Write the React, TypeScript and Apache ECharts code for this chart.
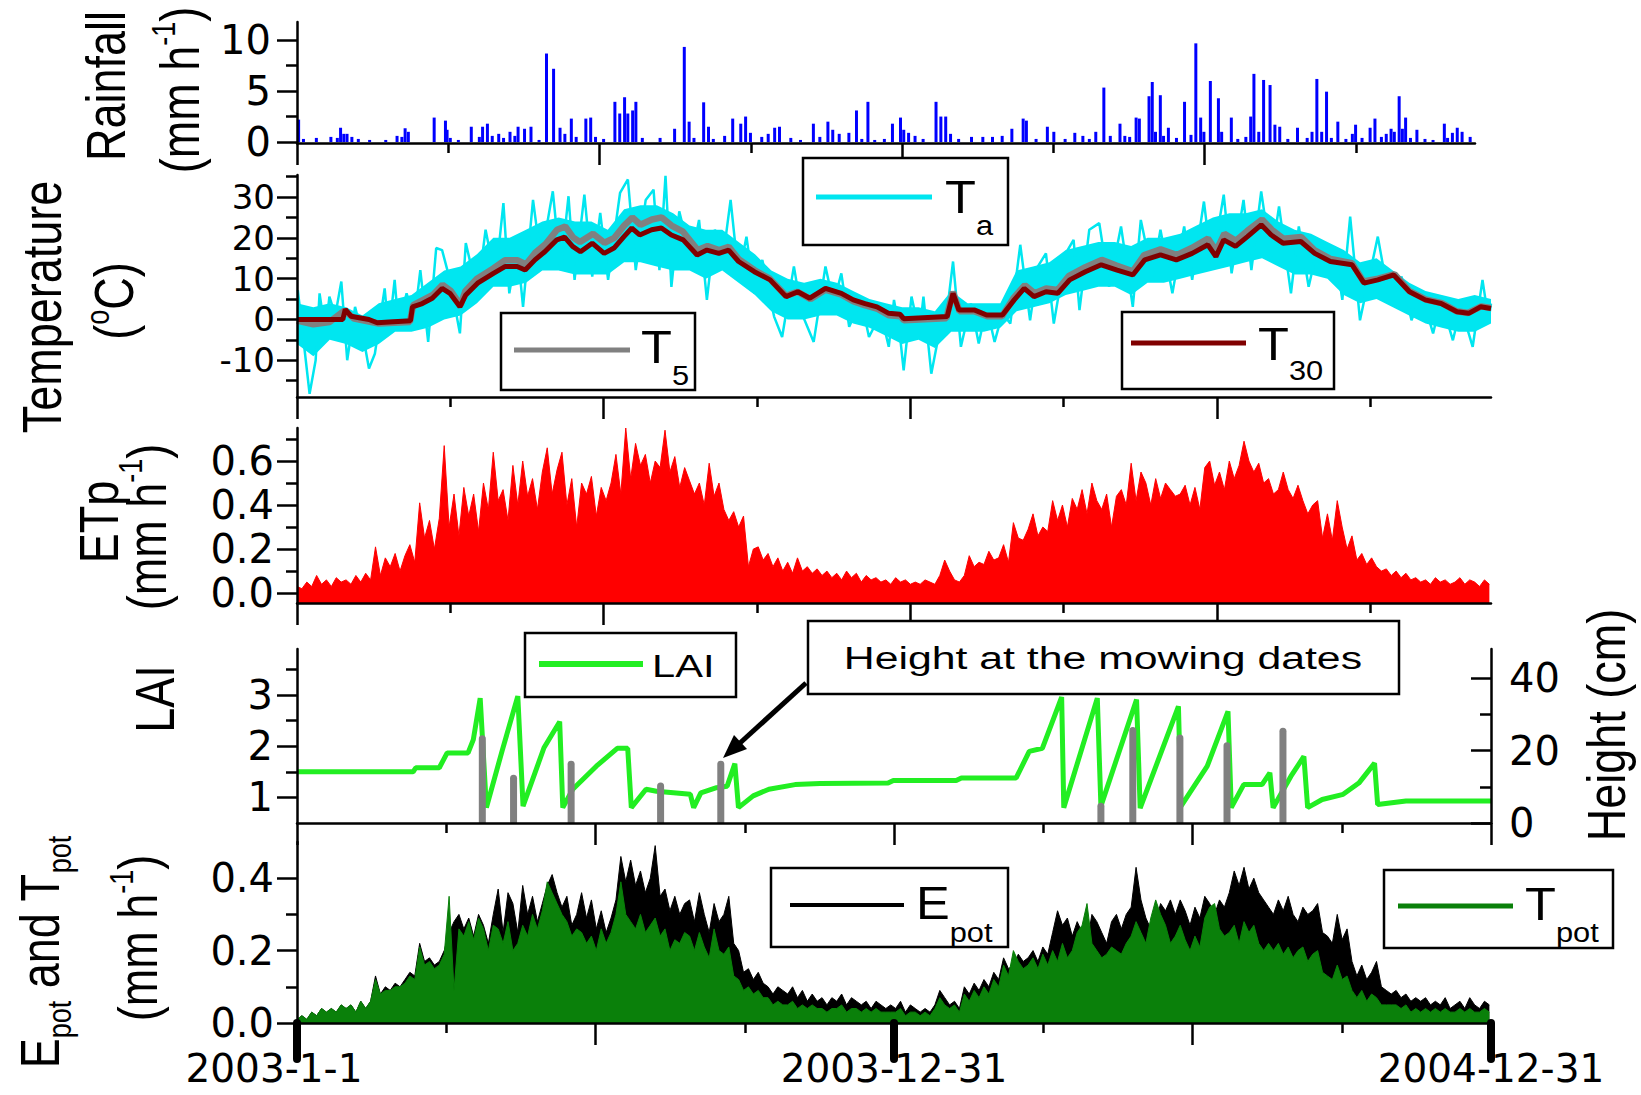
import React, { useEffect, useRef } from 'react';
import * as echarts from 'echarts';

// ---------- fonts ----------
const NAME_FONT = 'Liberation Sans';
const TICK_FONT = 'DejaVu Sans';
const TICK_SIZE = 40;
const TEMP_TICK_SIZE = 34;
const DATE_SIZE = 39;

// ---------- x axis (days since 2003-01-01) ----------
const X_MAX = 730;
const STEP_DAYS = 3; // sampling step of the regularly sampled series below
const X_TOP_MAJOR = [0, 187.5, 375, 562.5];
const X_TOP_MINOR = [93.75, 281.25, 468.75, 656.25];
const X_LOW_MAJOR = [0, 182.5, 365, 547.5, 730];
const X_BOT_MAJOR = [182.5, 547.5];
const X_LOW_MINOR = [91.25, 273.75, 456.25, 638.75];
const DATE_TICKS = [0, 365, 730];
const DATE_LABELS = ['2003-1-1', '2003-12-31', '2004-12-31'];

// ---------- y ticks ----------
const RAIN_TICKS = [0, 5, 10];
const RAIN_MINOR = [2.5, 7.5];
const TEMP_TICKS = [-10, 0, 10, 20, 30];
const TEMP_MINOR = [-15, -5, 5, 15, 25, 35];
const ETP_TICKS = [0, 0.2, 0.4, 0.6];
const ETP_MINOR = [0.1, 0.3, 0.5, 0.7];
const LAI_TICKS = [1, 2, 3];
const LAI_MINOR = [1.5, 2.5, 3.5];
const HEIGHT_TICKS = [0, 20, 40];
const HEIGHT_MINOR = [10, 30];
const POT_TICKS = [0, 0.2, 0.4];
const POT_MINOR = [0.1, 0.3];

// ---------- rainfall (day, mm/h) ----------
const RAIN_DAY = [1,4,12,21,25,27,29,31,34,38,45,55,62,65,67,69,85,92,93,95,100,108,113,115,118,121,125,128,132,135,137,141,145,150,154.6,159,163,166,170,173,179,182,185,190,197,200,203,205,208,210,214,225,234,240,243,246,252,255,258,265,270,275,278,281,288,292,296,299,306,312,320,324,329,332,336,342,346.7,350,353.8,358,364,369,374,376,379,383,388,396,399,402,405,410,418,425,431,437,443,450,452,458,465,469,476,482,487,491,495,500,504,510,513,516,520,522,528,530,532,535,537,540,545,550,554,557,560,562,566,571,573,579,583,588,591,593,596,599,603,606,609,614,620,626,629,632,635,638,641,645,650,654,656,660,665,668,672,675,678,680,683,685,687,690,694,699,704,711,713,716,719,722,727];
const RAIN_MM = [2.2,0.3,0.4,0.5,0.4,1.4,0.8,0.8,0.5,0.3,0.2,0.2,0.6,0.5,1.35,1.0,2.4,2.1,1.2,0.4,0.2,1.5,0.5,1.5,1.8,0.6,0.8,0.4,1.0,0.6,1.5,1.3,1.5,0.2,8.7,7.2,1.4,0.8,2.3,0.5,2.3,2.4,0.5,0.3,3.95,2.8,4.4,2.8,3.1,3.95,0.4,0.4,1.3,9.35,2.0,0.4,3.9,1.5,0.3,0.6,2.3,1.8,2.5,0.9,0.5,0.8,1.4,1.5,0.4,0.2,1.8,0.5,2.0,1.2,0.8,0.9,3.1,0.3,3.95,0.2,0.3,1.8,2.4,1.2,0.9,0.6,0.3,3.95,2.5,2.5,0.8,0.3,0.5,0.5,0.5,0.6,1.3,2.3,2.1,0.3,1.5,1.0,0.3,0.9,0.6,0.3,1.0,5.35,0.6,1.8,0.6,0.5,2.4,2.3,4.5,5.9,1.0,4.6,0.6,1.4,0.4,3.95,0.7,9.7,2.4,1.0,6.0,4.3,1.0,2.4,0.3,0.5,2.5,6.7,1.0,6.1,5.6,1.7,1.5,0.3,1.4,0.4,1.0,6.2,1.0,4.95,0.4,2.0,0.3,0.8,1.7,0.4,1.4,2.3,0.5,0.8,1.3,1.0,4.5,1.3,2.4,0.4,1.2,0.3,0.2,1.8,0.4,0.9,1.4,1.0,0.5];

// ---------- air temperature Ta: extremes (day, °C) ----------
const TA = [[0.5,7.2],[7.7,-18.2],[11.4,-10],[13.8,6.4],[17.4,-3.4],[19.8,5.6],[23.4,1],[27.1,9.3],[30.7,-10],[35.5,3.1],[41.6,-6.7],[44,-12],[47.6,-8.4],[53.6,7.6],[56.1,-3.4],[59.7,9.7],[62.1,-1.8],[67,6.4],[71.8,0],[75.4,12.1],[80.2,-5.5],[85.1,17.5],[88.7,17],[93.5,9.7],[99.6,-3.4],[103.2,18.7],[110.4,6.4],[115.3,22],[121.3,9.7],[126.2,28.5],[129.8,6.4],[134.6,17.9],[138.2,3.1],[144.3,29.3],[149.1,14.6],[156.4,31.4],[161.2,12.1],[166,30.2],[169.7,9.7],[175.7,30.6],[180.5,10.5],[185.4,26.1],[190.2,9.7],[197.5,31],[202.3,34.3],[207.1,12.1],[213.2,29.3],[218,31.8],[221.6,12.1],[225.3,35.2],[228.9,8],[233.7,26.5],[241,14.6],[245.8,24.4],[250.6,4.8],[255.5,22],[260.3,14.6],[265.1,29.3],[270,10.5],[274.8,20.3],[279.6,6.4],[284.5,14.6],[291.7,0.7],[296.6,-4.3],[303.8,13],[308.6,1.5],[315.9,-5.5],[323.1,13],[328,3.9],[332.8,11.3],[337.6,-1.8],[344.9,4.8],[349.7,-4.3],[357,1.5],[361.8,-6.7],[365,4.8],[368.5,-3.4],[370.9,-12.5],[375.7,5.6],[380.6,-3.4],[383,5.6],[387.8,-13.3],[392.6,-3.4],[396.3,-1.8],[401.1,14.2],[405.9,-6.7],[412,3.9],[416.8,-5.9],[421.6,3.1],[426.5,-5.5],[431.3,1.5],[436.1,-1],[442.2,18.3],[448.2,-0.2],[453,13],[457.9,16.2],[462.7,-1],[470,16.2],[474.8,19.5],[478.4,2.3],[484.4,22],[490.5,23.6],[496.5,8],[503.8,22.8],[511,3.1],[515.9,24.4],[523.1,10.5],[527.9,22],[535.2,6.4],[542.4,22.8],[547.3,9.7],[554.5,28.9],[559.3,13],[566.6,30.6],[571.4,11.3],[578.7,29.3],[583.5,12.1],[589.5,31.4],[595.6,14.6],[600.4,27.7],[607.7,6.4],[612.5,22.8],[618.5,8],[624.6,18.7],[629.4,12.1],[634.2,17.9],[639.1,4.8],[643.9,25.2],[649.9,-0.2],[656,11.3],[660.8,20.3],[668.1,3.9],[675.3,10.5],[681.4,-0.2],[687.4,6.4],[694.6,-3.4],[699.5,4.8],[706.7,-5.1],[711.6,3.1],[718.8,-6.7],[724.8,9.7],[728.5,-0.2],[730,3.9]];

// ---------- air temperature Ta: dense daily band (every 10 days, °C) ----------
const TA_BAND_DAY = [0,10,20,30,40,50,60,70,80,90,100,110,120,130,140,150,160,170,180,190,200,210,220,230,240,250,260,270,280,290,300,310,320,330,340,350,360,370,380,390,400,410,420,430,440,450,460,470,480,490,500,510,520,530,540,550,560,570,580,590,600,610,620,630,640,650,660,670,680,690,700,710,720,730];
const TA_LO = [-6,-9,-5,-6,-8,-6,-3,-3,-2,0,1,4,8,8,9,12,12,11,11,11,14,14,13,12,12,10,12,9,6,2,0,0,1,1,-1,-2,-4,-6,-5,-7,-3,-3,-3,-2,2,3,4,6,7,8,8,6,9,9,10,11,12,13,14,15,13,11,11,10,6,4,5,3,1,-1,-2,-3,-3,-1];
const TA_HI = [4,3,4,3,1,4,5,6,9,12,13,16,20,20,22,24,25,24,24,22,27,28,28,26,23,22,22,19,16,12,10,9,10,9,7,5,4,3,3,2,7,4,4,4,12,13,14,17,18,19,19,18,20,20,21,23,25,26,26,27,24,22,21,19,17,14,15,12,9,7,6,5,6,5];

// ---------- soil temperature 5 cm (day, °C) ----------
const T5 = [[0,-0.3],[10,-1.2],[20,-0.6],[29,2.2],[35,0.2],[50,-1.0],[69,-0.6],[71,3.5],[83,6],[89,8.5],[94,7],[100,3.5],[103,7],[110,10],[120,12.5],[127,14.5],[135,14.5],[140,13.5],[146,16.5],[152,18.5],[159,22],[164,22.8],[169,20],[173,19],[181,21],[188,18.8],[194,20],[200,23],[205,25],[210,23.2],[217,24.5],[223,25],[229,23],[236,21.5],[245,17],[251,18],[258,17],[264,17.8],[270,14.8],[280,12],[289,10],[299,5.8],[306,6.8],[314,5],[323,7.3],[333,6.1],[340,4.5],[347,3.5],[355,2.6],[362,1],[369,0.8],[371,-0.2],[397,0.3],[401,6.8],[405,2],[414,2],[422,0.8],[431,0.8],[438,5.2],[445,8.4],[451,6.4],[458,7.6],[465,7.2],[472,10.7],[482,12.8],[492,14.6],[501,13.2],[511,11.8],[518,15.8],[528,17.2],[538,15.8],[547,17.5],[557,19.8],[562,16.8],[567,21],[574,19.3],[581,21.7],[590,24.5],[596,22],[603,19.8],[614,20.2],[622,17],[632,14.8],[645,13.8],[652,9.3],[661,10],[671,11.1],[680,7],[690,4.9],[700,4],[709,2],[716,1.6],[724,3.2],[730,2.8]];

// ---------- soil temperature 30 cm (day, °C) ----------
const T30 = [[0,0],[28,0],[29.5,2.5],[33,0.8],[44,0],[49,-0.8],[69.4,-0.3],[70.6,3.1],[76.6,3.9],[82.7,5.2],[88.7,7.6],[93.5,6.4],[99.6,3.1],[103.2,6.0],[110.4,8.9],[120.1,11.3],[127.4,13.0],[134.6,13.0],[139.5,12.1],[145.5,14.6],[151.5,16.6],[158.8,19.5],[163.6,20.2],[168.5,17.9],[173.3,16.6],[180.5,18.7],[187.8,16.2],[193.8,17.5],[199.9,20.3],[204.7,22.4],[209.5,20.7],[216.8,22],[222.8,22.4],[228.9,20.7],[236.1,19.5],[244.6,15.8],[250.6,17],[257.9,16.2],[263.9,17],[270,14.2],[279.6,11.7],[289.3,9.7],[299,5.6],[306.2,6.8],[313.5,5.2],[323.1,7.6],[332.8,6.4],[340.1,4.8],[347.3,3.9],[354.6,3.1],[361.8,1.5],[368.6,1.3],[370.9,0.2],[397.5,0.7],[401.1,6.4],[404.7,2.3],[414.4,2.3],[421.6,1.1],[431.3,1.1],[438.5,4.8],[444.6,7.6],[450.6,5.6],[457.9,6.8],[465.1,6.4],[472.4,9.7],[482,11.7],[491.7,13.4],[501.4,12.1],[511,10.9],[518.3,14.6],[527.9,15.8],[537.6,14.6],[547.3,16.2],[556.9,18.3],[561.8,15.4],[566.6,19.5],[573.8,17.9],[581.1,20.3],[589.5,23.2],[595.6,20.7],[602.8,18.7],[613.7,19.1],[622.2,16.2],[631.8,14.2],[645.1,13.4],[652.4,8.9],[660.8,9.7],[670.5,10.9],[680.2,6.8],[689.8,4.8],[699.5,3.9],[709.2,1.9],[716.4,1.5],[723.6,3.1],[730,2.7]];

// ---------- ETp (mm/h), one value every STEP_DAYS days ----------
const ETP = [
  0.03,0.02,0.05,0.03,0.08,0.04,0.06,0.03,0.07,0.05,
  0.06,0.04,0.08,0.05,0.09,0.06,0.21,0.08,0.16,0.12,
  0.18,0.10,0.17,0.22,0.14,0.41,0.25,0.33,0.20,0.34,
  0.67,0.30,0.45,0.26,0.48,0.35,0.45,0.28,0.50,0.38,
  0.64,0.42,0.47,0.33,0.58,0.40,0.60,0.44,0.52,0.38,
  0.55,0.66,0.45,0.56,0.64,0.40,0.52,0.30,0.50,0.45,
  0.53,0.35,0.48,0.42,0.50,0.63,0.45,0.75,0.52,0.68,
  0.58,0.63,0.50,0.60,0.57,0.74,0.55,0.62,0.48,0.57,
  0.51,0.45,0.50,0.40,0.59,0.44,0.50,0.38,0.33,0.37,
  0.30,0.35,0.12,0.20,0.21,0.15,0.18,0.12,0.16,0.10,
  0.14,0.09,0.16,0.10,0.12,0.09,0.11,0.08,0.10,0.07,
  0.09,0.06,0.10,0.07,0.09,0.05,0.08,0.06,0.07,0.05,
  0.06,0.04,0.07,0.05,0.06,0.04,0.05,0.04,0.06,0.05,
  0.04,0.08,0.15,0.10,0.06,0.05,0.08,0.17,0.12,0.14,
  0.13,0.19,0.15,0.16,0.22,0.14,0.32,0.25,0.24,0.29,
  0.36,0.26,0.30,0.28,0.42,0.33,0.40,0.30,0.43,0.38,
  0.47,0.36,0.50,0.42,0.38,0.45,0.30,0.44,0.47,0.40,
  0.59,0.42,0.55,0.50,0.40,0.52,0.43,0.50,0.47,0.44,
  0.45,0.49,0.40,0.48,0.38,0.57,0.60,0.49,0.55,0.47,
  0.60,0.52,0.58,0.69,0.60,0.55,0.59,0.50,0.52,0.45,
  0.47,0.55,0.47,0.43,0.49,0.42,0.36,0.40,0.42,0.25,
  0.36,0.24,0.42,0.30,0.20,0.26,0.15,0.18,0.13,0.16,
  0.12,0.10,0.11,0.08,0.10,0.07,0.09,0.06,0.07,0.05,
  0.06,0.04,0.07,0.05,0.06,0.04,0.05,0.07,0.04,0.06,0.05,0.03,0.06,0.04
];

// ---------- LAI (day, m2/m2) ----------
const LAI = [[0,1.5],[71,1.5],[72.6,1.58],[87,1.58],[91.8,1.87],[104.6,1.87],[107.8,2.13],[112,2.94],[115.8,0.8],[125.4,1.91],[135,2.98],[138.2,0.83],[151,1.97],[160.6,2.48],[162.5,0.8],[168.6,1.16],[183,1.61],[195.8,1.96],[202.2,1.96],[204.4,0.8],[213.4,1.16],[219.8,1.12],[240.5,1.06],[242.5,0.8],[246.9,1.09],[256.5,1.19],[263,1.22],[267.7,1.66],[269.9,0.8],[278.9,1.03],[288.5,1.16],[304.5,1.25],[319.8,1.27],[361.4,1.28],[364.6,1.33],[403,1.33],[406.2,1.38],[439.7,1.38],[447.7,1.9],[455.7,1.96],[467.5,2.96],[468.8,0.8],[489.3,2.94],[491.5,0.83],[513.3,2.91],[515.5,0.79],[538.9,2.78],[540.5,0.83],[556.5,1.61],[569.2,2.68],[571.2,0.8],[578.8,1.25],[590,1.25],[594.8,1.48],[596.8,0.8],[607.6,1.41],[615.6,1.8],[617.9,0.8],[626.8,0.96],[639.6,1.06],[649.2,1.28],[658.8,1.67],[660.7,0.86],[678,0.93],[730,0.93]];

// ---------- canopy height at the mowing dates (day, cm) ----------
const MOW = [[113.3,24.2],[132.4,13.3],[167.6,17.2],[222.3,11.2],[259.1,17.2],[491.5,5.6],[511,26.5],[539.8,24.4],[568.6,22.3],[602.8,26.3]];

// ---------- Epot and Tpot (mm/h), one value every STEP_DAYS days ----------
const EPOT = [
  0.01,0.02,0.01,0.03,0.02,0.04,0.03,0.04,0.03,0.05,
  0.04,0.05,0.03,0.06,0.04,0.06,0.13,0.08,0.10,0.09,
  0.11,0.10,0.12,0.14,0.13,0.22,0.17,0.18,0.16,0.17,
  0.20,0.25,0.28,0.30,0.26,0.29,0.24,0.30,0.27,0.22,
  0.30,0.37,0.25,0.36,0.33,0.25,0.38,0.30,0.35,0.28,
  0.33,0.38,0.41,0.36,0.32,0.35,0.27,0.30,0.36,0.29,
  0.34,0.26,0.31,0.25,0.29,0.34,0.46,0.39,0.45,0.38,
  0.42,0.36,0.40,0.49,0.35,0.37,0.31,0.35,0.30,0.33,
  0.34,0.28,0.36,0.30,0.25,0.33,0.28,0.30,0.35,0.22,
  0.20,0.14,0.15,0.12,0.14,0.11,0.10,0.08,0.10,0.09,
  0.08,0.10,0.07,0.09,0.06,0.08,0.06,0.07,0.05,0.07,
  0.06,0.08,0.05,0.07,0.06,0.05,0.06,0.04,0.06,0.05,
  0.04,0.05,0.04,0.06,0.03,0.05,0.04,0.03,0.04,0.03,
  0.05,0.09,0.07,0.05,0.06,0.04,0.10,0.08,0.11,0.09,
  0.12,0.10,0.14,0.12,0.18,0.15,0.16,0.19,0.17,0.18,
  0.20,0.17,0.21,0.19,0.25,0.31,0.27,0.29,0.24,0.28,
  0.25,0.22,0.30,0.28,0.25,0.22,0.28,0.30,0.26,0.30,
  0.32,0.43,0.34,0.29,0.26,0.28,0.33,0.31,0.34,0.30,
  0.34,0.31,0.27,0.32,0.29,0.35,0.33,0.30,0.34,0.32,
  0.36,0.42,0.38,0.43,0.37,0.40,0.36,0.34,0.32,0.30,
  0.34,0.31,0.35,0.30,0.28,0.32,0.30,0.31,0.33,0.25,
  0.24,0.22,0.30,0.23,0.26,0.17,0.13,0.16,0.12,0.14,
  0.17,0.10,0.09,0.08,0.09,0.07,0.08,0.06,0.07,0.06,
  0.07,0.05,0.06,0.05,0.07,0.04,0.05,0.06,0.04,0.07,0.05,0.04,0.06,0.05
];
const TPOT = [
  0.01,0.02,0.01,0.03,0.02,0.04,0.03,0.04,0.03,0.05,
  0.04,0.05,0.03,0.06,0.04,0.06,0.12,0.08,0.09,0.09,
  0.10,0.10,0.11,0.13,0.12,0.21,0.16,0.17,0.15,0.16,
  0.19,0.35,0.09,0.26,0.24,0.28,0.23,0.29,0.26,0.20,
  0.27,0.26,0.22,0.28,0.20,0.22,0.27,0.24,0.30,0.26,
  0.31,0.39,0.36,0.33,0.30,0.28,0.24,0.26,0.25,0.22,
  0.24,0.20,0.26,0.22,0.25,0.30,0.39,0.30,0.28,0.26,
  0.30,0.25,0.27,0.29,0.24,0.26,0.20,0.23,0.22,0.25,
  0.24,0.20,0.25,0.21,0.18,0.26,0.20,0.19,0.21,0.13,
  0.12,0.09,0.10,0.08,0.09,0.07,0.07,0.05,0.06,0.05,
  0.05,0.06,0.04,0.05,0.04,0.05,0.04,0.04,0.03,0.04,
  0.04,0.05,0.03,0.04,0.04,0.03,0.04,0.03,0.04,0.03,
  0.03,0.03,0.03,0.04,0.02,0.03,0.03,0.02,0.03,0.02,
  0.04,0.07,0.05,0.04,0.05,0.03,0.08,0.06,0.09,0.07,
  0.10,0.08,0.12,0.10,0.16,0.13,0.20,0.17,0.15,0.16,
  0.18,0.15,0.19,0.16,0.20,0.17,0.22,0.18,0.20,0.25,
  0.27,0.33,0.22,0.20,0.18,0.19,0.21,0.20,0.19,0.22,
  0.24,0.28,0.25,0.22,0.29,0.34,0.30,0.27,0.22,0.24,
  0.27,0.23,0.20,0.24,0.21,0.29,0.32,0.33,0.26,0.24,
  0.25,0.27,0.22,0.28,0.25,0.27,0.22,0.20,0.22,0.20,
  0.22,0.19,0.21,0.18,0.20,0.21,0.17,0.19,0.20,0.14,
  0.13,0.12,0.16,0.12,0.13,0.09,0.07,0.09,0.06,0.08,
  0.07,0.05,0.05,0.05,0.05,0.04,0.05,0.03,0.04,0.03,
  0.04,0.03,0.04,0.03,0.04,0.03,0.03,0.04,0.03,0.04,0.03,0.03,0.04,0.03
];

// ---------- colours ----------
const C_RAIN = '#0000ff';
const C_TA = '#00e6f0';
const C_T5 = '#808080';
const C_T30 = '#800000';
const C_ETP = '#ff0000';
const C_LAI = '#22ee22';
const C_MOW = '#808080';
const C_EPOT = '#000000';
const C_TPOT = '#0a800a';

// ---------- helpers ----------
let measureCtx: CanvasRenderingContext2D | null = null;
function textW(t: string, size: number, fam: string) {
  if (!measureCtx) measureCtx = document.createElement('canvas').getContext('2d');
  if (!measureCtx) return t.length * size * 0.55;
  measureCtx.font = `${size}px "${fam}"`;
  return measureCtx.measureText(t).width;
}

type Part = { t: string; s: number; dy?: number };
function label(x: number, y: number, parts: Part[], o: { rot?: boolean; sx?: number; sy?: number; left?: boolean } = {}) {
  const fam = NAME_FONT;
  const ws = parts.map((p) => textW(p.t, p.s, fam));
  const total = ws.reduce((a, b) => a + b, 0);
  let cx = o.left ? 0 : -total / 2;
  const children = parts.map((p, i) => {
    const el = {
      type: 'text',
      x: cx,
      y: p.dy || 0,
      z: 110,
      style: {
        text: p.t,
        font: `${p.s}px "${fam}"`,
        fill: '#000',
        align: 'left',
        verticalAlign: 'middle',
        textAlign: 'left',
        textVerticalAlign: 'middle',
      },
    };
    cx += ws[i];
    return el;
  });
  return {
    type: 'group',
    x,
    y,
    rotation: o.rot ? Math.PI / 2 : 0,
    scaleX: o.sx || 1,
    scaleY: o.sy || 1,
    z: 110,
    children,
  };
}

function box(x: number, y: number, w: number, h: number) {
  return { type: 'rect', z: 100, shape: { x, y, width: w, height: h }, style: { fill: '#fff', stroke: '#000', lineWidth: 2.5 } };
}
function seg(x1: number, y1: number, x2: number, y2: number, color: string, width: number) {
  return { type: 'line', z: 105, shape: { x1, y1, x2, y2 }, style: { stroke: color, lineWidth: width } };
}

const AX = { color: '#000', width: 2.5 };

function buildOption() {
  const xAxis: any[] = [];
  const yAxis: any[] = [];
  const addX = (grid: number, major: number[], minor: number[]) => {
    xAxis.push({
      type: 'value', gridIndex: grid, min: 0, max: X_MAX, position: 'bottom', z: 10,
      axisLine: { show: true, onZero: false, lineStyle: AX },
      axisTick: { show: true, customValues: major, length: 22, lineStyle: AX },
      axisLabel: { show: false }, splitLine: { show: false },
    });
    const idx = xAxis.length - 1;
    xAxis.push({
      type: 'value', gridIndex: grid, min: 0, max: X_MAX, position: 'bottom', z: 10,
      axisLine: { show: false, onZero: false },
      axisTick: { show: true, customValues: minor, length: 10, lineStyle: AX },
      axisLabel: { show: false }, splitLine: { show: false },
    });
    return idx;
  };
  const addY = (grid: number, min: number, max: number, major: number[], minor: number[], fmt: (v: number) => string, pos = 'left', margin = 24, size = TICK_SIZE) => {
    const inside = pos === 'right';
    yAxis.push({
      type: 'value', gridIndex: grid, min, max, position: pos, z: 10,
      axisLine: { show: true, onZero: false, lineStyle: AX },
      axisTick: { show: true, inside, customValues: major, length: 20, lineStyle: AX },
      axisLabel: {
        show: true, customValues: major, formatter: fmt, margin, color: '#000',
        fontFamily: TICK_FONT, fontSize: size,
      },
      splitLine: { show: false },
    });
    const idx = yAxis.length - 1;
    yAxis.push({
      type: 'value', gridIndex: grid, min, max, position: pos, offset: 0, z: 10,
      axisLine: { show: false, onZero: false },
      axisTick: { show: true, inside, customValues: minor, length: 11, lineStyle: AX },
      axisLabel: { show: false }, splitLine: { show: false },
    });
    return idx;
  };

  const int = (v: number) => String(v);
  const one = (v: number) => v.toFixed(1);

  const xRain = addX(0, X_TOP_MAJOR, X_TOP_MINOR);
  const xTemp = addX(1, X_TOP_MAJOR, X_TOP_MINOR);
  const xEtp = addX(2, X_TOP_MAJOR, X_TOP_MINOR);
  const xLai = addX(3, X_LOW_MAJOR, X_LOW_MINOR);
  const xPot = addX(4, X_BOT_MAJOR, X_LOW_MINOR);
  // date markers and labels of the bottom panel
  xAxis.push({
    type: 'value', gridIndex: 4, min: 0, max: X_MAX, position: 'bottom', z: 10,
    axisLine: { show: false, onZero: false },
    axisTick: { show: true, customValues: DATE_TICKS, length: 36, lineStyle: { color: '#000', width: 8, cap: 'round' } },
    axisLabel: {
      show: true, customValues: DATE_TICKS, margin: 26, color: '#000',
      fontFamily: TICK_FONT, fontSize: DATE_SIZE, showMinLabel: true, showMaxLabel: true,
      formatter: (v: number) => {
        const i = DATE_TICKS.indexOf(v);
        const s = i >= 0 ? DATE_LABELS[i] : '';
        return i === 0 ? `{f|${s}}` : s;
      },
      rich: { f: { fontFamily: TICK_FONT, fontSize: DATE_SIZE, color: '#000', padding: [0, 46, 0, 0] } },
    },
    splitLine: { show: false },
  });

  const yRain = addY(0, -0.1, 11.8, RAIN_TICKS, RAIN_MINOR, int, 'left', 26);
  const yTemp = addY(1, -19, 35.4, TEMP_TICKS, TEMP_MINOR, int, 'left', 22, TEMP_TICK_SIZE);
  const yEtp = addY(2, -0.045, 0.75, ETP_TICKS, ETP_MINOR, one, 'left', 23);
  const yLai = addY(3, 0.5, 3.9, LAI_TICKS, LAI_MINOR, int, 'left', 24);
  const yHeight = addY(3, 0, 48, HEIGHT_TICKS, HEIGHT_MINOR, int, 'right', 18);
  const yPot = addY(4, 0, 0.5, POT_TICKS, POT_MINOR, one, 'left', 23);

  const sampled = (arr: number[]) => arr.map((v, i) => [i * STEP_DAYS, v]);

  const series: any[] = [
    {
      type: 'bar', name: 'Rainfall', xAxisIndex: xRain, yAxisIndex: yRain,
      data: RAIN_DAY.map((d, i) => [d, RAIN_MM[i]]), barWidth: 3,
      itemStyle: { color: C_RAIN },
    },
    // dense daily Ta band: upper envelope filled in cyan, then the part below the lower envelope painted white
    {
      type: 'line', name: 'Ta band top', xAxisIndex: xTemp, yAxisIndex: yTemp,
      data: TA_BAND_DAY.map((d, i) => [d, TA_HI[i]]),
      symbol: 'none', lineStyle: { width: 0, opacity: 0 },
      areaStyle: { color: C_TA, opacity: 1, origin: 'start' }, z: 1, silent: true,
    },
    {
      type: 'line', name: 'Ta band bottom', xAxisIndex: xTemp, yAxisIndex: yTemp,
      data: TA_BAND_DAY.map((d, i) => [d, TA_LO[i]]),
      symbol: 'none', lineStyle: { width: 0, opacity: 0 },
      areaStyle: { color: '#ffffff', opacity: 1, origin: 'start' }, z: 1, silent: true,
    },
    {
      type: 'line', name: 'Ta', xAxisIndex: xTemp, yAxisIndex: yTemp, data: TA,
      symbol: 'none', lineStyle: { color: C_TA, width: 2.5 }, z: 2,
    },
    {
      type: 'line', name: 'T5', xAxisIndex: xTemp, yAxisIndex: yTemp, data: T5,
      symbol: 'none', lineStyle: { color: C_T5, width: 6.5 }, z: 3,
    },
    {
      type: 'line', name: 'T30', xAxisIndex: xTemp, yAxisIndex: yTemp, data: T30,
      symbol: 'none', lineStyle: { color: C_T30, width: 5 }, z: 4,
    },
    {
      type: 'line', name: 'ETp', xAxisIndex: xEtp, yAxisIndex: yEtp, data: sampled(ETP),
      symbol: 'none', lineStyle: { color: C_ETP, width: 1 },
      areaStyle: { color: C_ETP, opacity: 1, origin: 'start' },
    },
    {
      type: 'line', name: 'LAI', xAxisIndex: xLai, yAxisIndex: yLai, data: LAI,
      symbol: 'none', lineStyle: { color: C_LAI, width: 5 }, z: 2,
    },
    {
      type: 'bar', name: 'Height', xAxisIndex: xLai, yAxisIndex: yHeight, data: MOW,
      barWidth: 7, itemStyle: { color: C_MOW, borderRadius: [4, 4, 0, 0] }, z: 5,
    },
    {
      type: 'line', name: 'Epot', xAxisIndex: xPot, yAxisIndex: yPot, data: sampled(EPOT),
      symbol: 'none', lineStyle: { color: C_EPOT, width: 1 },
      areaStyle: { color: C_EPOT, opacity: 1, origin: 'start' }, z: 2,
    },
    {
      type: 'line', name: 'Tpot', xAxisIndex: xPot, yAxisIndex: yPot, data: sampled(TPOT),
      symbol: 'none', lineStyle: { color: C_TPOT, width: 1 },
      areaStyle: { color: C_TPOT, opacity: 1, origin: 'start' }, z: 3,
    },
  ];

  const NS = 45;
  const SS = 27;
  const ST = 1.25;
  const MMH: Part[] = [{ t: '(mm h', s: NS }, { t: '-1', s: SS, dy: -14 }, { t: ')', s: NS }];

  const elements: any[] = [
    // axis titles
    label(106, 86, [{ t: 'Rainfall', s: NS }], { rot: true, sy: ST }),
    label(180, 90, MMH, { rot: true, sy: ST }),
    label(42, 307, [{ t: 'Temperature', s: NS }], { rot: true, sy: ST }),
    label(114, 301, [{ t: '(', s: NS }, { t: 'o', s: SS, dy: -14 }, { t: 'C)', s: NS }], { rot: true, sy: ST }),
    label(99, 522, [{ t: 'ETp', s: NS }], { rot: true, sy: ST }),
    label(147, 527, MMH, { rot: true, sy: ST }),
    label(155, 699, [{ t: 'LAI', s: NS }], { rot: true, sy: ST }),
    label(1606, 725, [{ t: 'Height (cm)', s: NS }], { rot: true, sy: 1.18 }),
    label(40, 952, [{ t: 'E', s: NS }, { t: 'pot', s: SS, dy: 15 }, { t: ' and T', s: NS }, { t: 'pot', s: SS, dy: 15 }], { rot: true, sy: ST }),
    label(138, 938, MMH, { rot: true, sy: ST }),

    // legend Ta
    box(803, 158, 205, 87),
    seg(816, 197, 932, 197, C_TA, 5),
    label(945, 197, [{ t: 'T', s: 46 }, { t: 'a', s: 28, dy: 28 }], { left: true, sx: 1.1 }),
    // legend T5
    box(501, 313, 194, 77),
    seg(514, 350, 630, 350, C_T5, 5),
    label(641, 347, [{ t: 'T', s: 46 }, { t: '5', s: 28, dy: 28 }], { left: true, sx: 1.1 }),
    // legend T30
    box(1122, 312, 212, 77),
    seg(1131, 343, 1246, 343, C_T30, 5),
    label(1258, 344, [{ t: 'T', s: 46 }, { t: '30', s: 28, dy: 26 }], { left: true, sx: 1.1 }),
    // legend LAI
    box(525, 633, 211, 64),
    seg(539, 664, 643, 664, C_LAI, 6),
    label(652, 666, [{ t: 'LAI', s: 32 }], { left: true, sx: 1.3 }),
    // annotation box
    box(808, 621, 591, 73),
    label(1103, 658, [{ t: 'Height at the mowing dates', s: 31 }], { sx: 1.38 }),
    // arrow
    seg(806, 683, 740, 743, '#000', 5),
    { type: 'polygon', z: 105, shape: { points: [[723, 758], [747, 749], [734, 735]] }, style: { fill: '#000' } },
    // legend Epot
    box(771, 868, 237, 79),
    seg(790, 905, 904, 905, C_EPOT, 4),
    label(916, 903, [{ t: 'E', s: 46 }, { t: 'pot', s: 28, dy: 29 }], { left: true, sx: 1.1 }),
    // legend Tpot
    box(1384, 870, 229, 78),
    seg(1398, 906, 1513, 906, C_TPOT, 5),
    label(1525, 904, [{ t: 'T', s: 46 }, { t: 'pot', s: 28, dy: 28 }], { left: true, sx: 1.1 }),
  ];

  return {
    animation: false,
    backgroundColor: '#ffffff',
    grid: [
      { left: 297, top: 22, width: 1178, height: 121 },
      { left: 297, top: 175, width: 1194, height: 222 },
      { left: 297, top: 428, width: 1194, height: 175 },
      { left: 297, top: 649, width: 1194, height: 174 },
      { left: 297, top: 842, width: 1194, height: 181 },
    ],
    xAxis,
    yAxis,
    series,
    graphic: { elements },
  };
}

export default function App() {
  const ref = useRef<HTMLDivElement>(null);
  useEffect(() => {
    if (!ref.current) return;
    const chart = echarts.init(ref.current, null, { renderer: 'svg' });
    chart.setOption(buildOption() as any);
    return () => chart.dispose();
  }, []);
  return (
    <div
      ref={ref}
      style={{ position: 'absolute', left: 0, top: 0, width: 1641, height: 1095, background: '#fff' }}
    />
  );
}
